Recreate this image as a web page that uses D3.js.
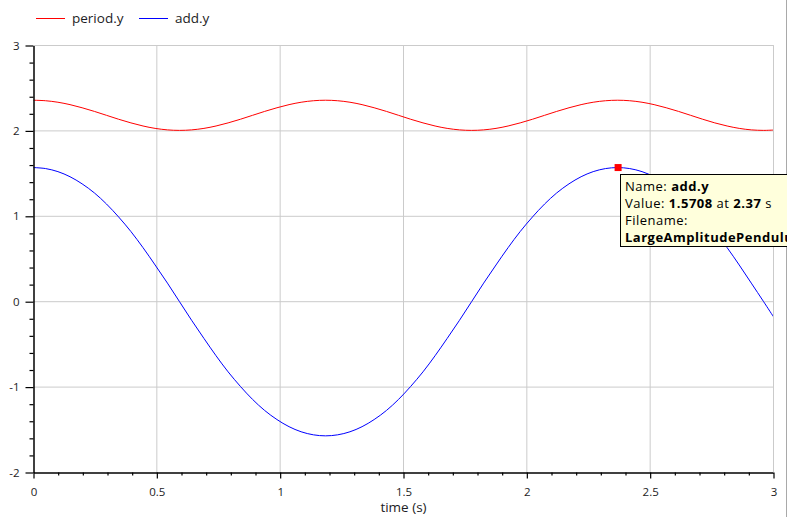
<!DOCTYPE html>
<html>
<head>
<meta charset="utf-8">
<script src="https://cdn.jsdelivr.net/npm/d3@7"></script>
<style>
    body { margin: 0; background: #ffffff; }
    svg { display: block; font-family: "Open Sans", sans-serif; }
</style>
</head>
<body>
<svg id="plot" width="787" height="517"></svg>
<script>
// values (time in seconds)
let time_values = [0, 0.049, 0.099, 0.148, 0.197, 0.247, 0.296, 0.345, 0.395, 0.444, 0.493, 0.543,
    0.592, 0.641, 0.691, 0.740, 0.789, 0.839, 0.888, 0.937, 0.987, 1.036, 1.085, 1.135,
    1.184, 1.233, 1.283, 1.332, 1.381, 1.431, 1.480, 1.529, 1.579, 1.628, 1.677, 1.727,
    1.776, 1.825, 1.875, 1.924, 1.973, 2.023, 2.072, 2.121, 2.171, 2.220, 2.269, 2.319,
    2.368, 2.417, 2.467, 2.516, 2.565, 2.615, 2.664, 2.713, 2.762, 2.812, 2.861, 2.910,
    2.960, 3.0];

let period_y_values = [2.3592, 2.3532, 2.3356, 2.3075, 2.2709, 2.2282, 2.1824, 2.1365, 2.0939, 2.0574, 2.0295, 2.0120,
    2.0061, 2.0120, 2.0295, 2.0574, 2.0939, 2.1365, 2.1824, 2.2282, 2.2709, 2.3075, 2.3356, 2.3532,
    2.3592, 2.3532, 2.3356, 2.3075, 2.2709, 2.2282, 2.1824, 2.1365, 2.0939, 2.0574, 2.0295, 2.0120,
    2.0061, 2.0120, 2.0295, 2.0574, 2.0939, 2.1365, 2.1824, 2.2282, 2.2709, 2.3075, 2.3356, 2.3532,
    2.3592, 2.3532, 2.3356, 2.3075, 2.2709, 2.2282, 2.1824, 2.1365, 2.0939, 2.0574, 2.0295, 2.0120,
    2.0061, 2.0100];

let add_y_values = [1.5708, 1.5589, 1.5231, 1.4634, 1.3801, 1.2733, 1.1438, 0.9925, 0.8214, 0.6328, 0.4301, 0.2176,
    0, -0.2176, -0.4301, -0.6328, -0.8214, -0.9925, -1.1438, -1.2733, -1.3801, -1.4634, -1.5231, -1.5589,
    -1.5708, -1.5589, -1.5231, -1.4634, -1.3801, -1.2733, -1.1438, -0.9925, -0.8214, -0.6328, -0.4301, -0.2176,
    0, 0.2176, 0.4301, 0.6328, 0.8214, 0.9925, 1.1438, 1.2733, 1.3801, 1.4634, 1.5231, 1.5589,
    1.5708, 1.5589, 1.5231, 1.4634, 1.3801, 1.2733, 1.1438, 0.9925, 0.8214, 0.6328, 0.4301, 0.2176,
    0, -0.1770];

let series_names = ['period.y', 'add.y'];
let series_colors = ['#ff0000', '#0000ff'];

let x_major_ticks = [0, 0.5, 1, 1.5, 2, 2.5, 3];
let y_major_ticks = [-2, -1, 0, 1, 2, 3];

let marker_time = 2.37;
let marker_value = 1.5708;
let tooltip_lines = [
    [['Name: ', false], ['add.y', true]],
    [['Value: ', false], ['1.5708', true], [' at ', false], ['2.37', true], [' s', false]],
    [['Filename:', false]],
    [['LargeAmplitudePendulum.mat', true]]
];

let svg = d3.select('#plot');

let x_scale = d3.scaleLinear().domain([0, 3]).range([33.5, 773.5]);
let y_scale = d3.scaleLinear().domain([-2, 3]).range([472.5, 45.5]);

let x_minor_ticks = d3.range(0, 30.5, 1).map(d => d / 10).filter(d => x_major_ticks.indexOf(d) < 0);
let y_minor_ticks = d3.range(-10, 15.5, 1).map(d => d / 5).filter(d => y_major_ticks.indexOf(d) < 0);

// grid
let grid_color = '#cbcbcb';
svg.append('g').selectAll('line')
    .data(x_major_ticks.slice(1))
    .enter().append('line')
    .attr('x1', d => x_scale(d)).attr('x2', d => x_scale(d))
    .attr('y1', y_scale(-2)).attr('y2', y_scale(3))
    .attr('stroke', grid_color);

svg.append('g').selectAll('line')
    .data(y_major_ticks.slice(1))
    .enter().append('line')
    .attr('x1', x_scale(0)).attr('x2', x_scale(3))
    .attr('y1', d => y_scale(d)).attr('y2', d => y_scale(d))
    .attr('stroke', grid_color);

// window edge
svg.append('line')
    .attr('x1', 786.5).attr('x2', 786.5).attr('y1', 0).attr('y2', 517)
    .attr('stroke', '#a9a9a9');

// curves
let line_generator = d3.line()
    .x(d => x_scale(d[0]))
    .y(d => y_scale(d[1]))
    .curve(d3.curveCatmullRom);

[period_y_values, add_y_values].forEach(function (values, i) {
    svg.append('path')
        .datum(time_values.map((t, j) => [t, values[j]]))
        .attr('d', line_generator)
        .attr('fill', 'none')
        .attr('stroke', series_colors[i])
        .attr('stroke-width', 1);
});

// axes
let plain_format = d => String(d);

function style_axis(axis_g) {
    axis_g.select('.domain').attr('stroke', '#000000').attr('stroke-width', 1.5);
    axis_g.selectAll('.tick line').attr('stroke', '#000000').attr('stroke-width', 1.2);
    axis_g.selectAll('.tick text').attr('fill', '#1c1c24').style('font-size', '11.5px')
        .style('font-family', '"Open Sans", sans-serif');
}

let x_minor_g = svg.append('g')
    .attr('transform', 'translate(0,' + y_scale(-2) + ')')
    .call(d3.axisBottom(x_scale).tickValues(x_minor_ticks).tickSize(3).tickFormat(''));
let x_axis_g = svg.append('g')
    .attr('transform', 'translate(0,' + y_scale(-2) + ')')
    .call(d3.axisBottom(x_scale).tickValues(x_major_ticks).tickSizeInner(6).tickSizeOuter(0)
        .tickPadding(9).tickFormat(plain_format));
style_axis(x_minor_g);
style_axis(x_axis_g);
x_minor_g.select('.domain').remove();

let y_minor_g = svg.append('g')
    .attr('transform', 'translate(' + x_scale(0) + ',0)')
    .call(d3.axisLeft(y_scale).tickValues(y_minor_ticks).tickSize(4).tickFormat(''));
let y_axis_g = svg.append('g')
    .attr('transform', 'translate(' + x_scale(0) + ',0)')
    .call(d3.axisLeft(y_scale).tickValues(y_major_ticks).tickSizeInner(8).tickSizeOuter(0)
        .tickPadding(6).tickFormat(plain_format));
style_axis(y_minor_g);
style_axis(y_axis_g);
y_minor_g.select('.domain').remove();

// top and right border
svg.append('path')
    .attr('d', 'M' + x_scale(0) + ',' + y_scale(3) + 'H' + x_scale(3) + 'V' + y_scale(-2))
    .attr('fill', 'none')
    .attr('stroke', grid_color);

svg.append('text')
    .attr('x', x_scale(1.5)).attr('y', 512)
    .attr('text-anchor', 'middle')
    .style('font-size', '13.5px')
    .attr('fill', '#1c1c24')
    .text('time (s)');

// legend
let legend_x = [36, 139];
series_names.forEach(function (name, i) {
    svg.append('line')
        .attr('x1', legend_x[i]).attr('x2', legend_x[i] + 29)
        .attr('y1', 18.5).attr('y2', 18.5)
        .attr('stroke', series_colors[i]);
    svg.append('text')
        .attr('x', legend_x[i] + 36).attr('y', 23)
        .style('font-size', '13.5px')
        .attr('fill', '#1c1c24')
        .text(name);
});

// selected point + tooltip
svg.append('rect')
    .attr('x', x_scale(marker_time) - 3.5).attr('y', y_scale(marker_value) - 3.5)
    .attr('width', 7).attr('height', 7)
    .attr('fill', '#ff0000');

let tooltip_g = svg.append('g').attr('transform', 'translate(620.5,174.5)');
tooltip_g.append('rect')
    .attr('width', 260).attr('height', 72)
    .attr('fill', '#ffffdc')
    .attr('stroke', '#000000');

tooltip_lines.forEach(function (parts, i) {
    let text = tooltip_g.append('text')
        .attr('x', 4.5).attr('y', 16.5 + i * 17)
        .style('font-size', '13px')
        .style('letter-spacing', '0.5px')
        .attr('fill', '#000000');
    parts.forEach(function (part) {
        text.append('tspan')
            .style('font-weight', part[1] ? 'bold' : 'normal')
            .text(part[0]);
    });
});
</script>
</body>
</html>
